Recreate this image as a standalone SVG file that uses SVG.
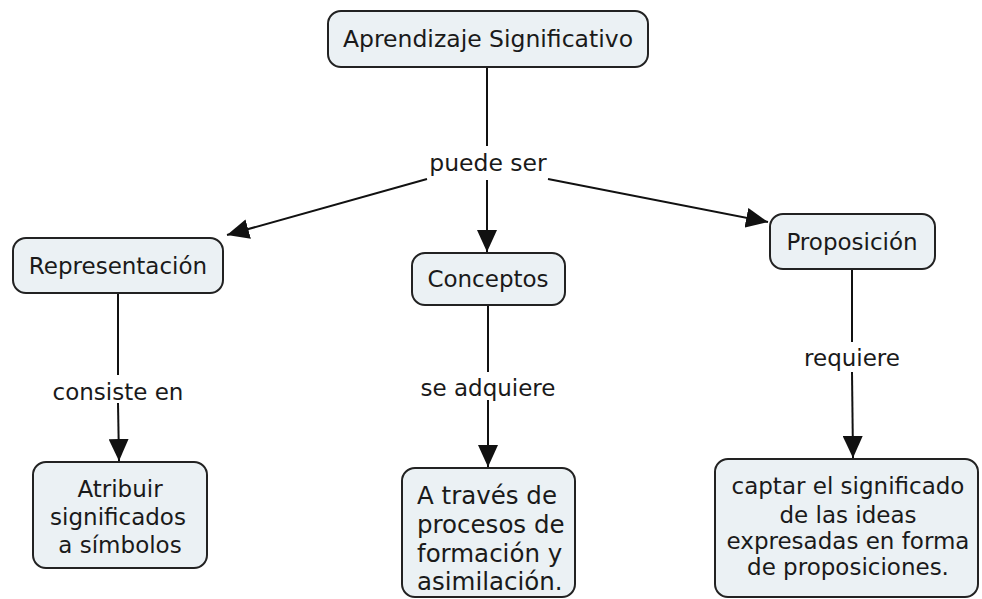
<svg xmlns="http://www.w3.org/2000/svg" width="982" height="599" viewBox="0 0 982 599">
<defs>
<marker id="ah" markerUnits="userSpaceOnUse" markerWidth="24" markerHeight="20" refX="22" refY="10" orient="auto">
<path d="M0,0 L22,10 L0,20 Z" fill="#111"/>
</marker>
<style>
.box{fill:#ebf1f4;stroke:#222;stroke-width:2}
.t{font-family:"DejaVu Sans",Verdana,sans-serif;font-size:23px;fill:#1a1a1a}
.c{text-anchor:middle}
.big{font-size:24.5px}
.ln{stroke:#111;stroke-width:2;fill:none}
</style>
</defs>
<rect width="982" height="599" fill="#fff"/>
<g id="connectors">
<line class="ln" x1="487" y1="67" x2="487" y2="146"/>
<line class="ln" x1="427" y1="179" x2="227" y2="235" marker-end="url(#ah)"/>
<line class="ln" x1="487" y1="180" x2="487" y2="252" marker-end="url(#ah)"/>
<line class="ln" x1="548" y1="179" x2="768" y2="222" marker-end="url(#ah)"/>
<line class="ln" x1="118" y1="293" x2="118" y2="375"/>
<line class="ln" x1="118" y1="403" x2="119" y2="461" marker-end="url(#ah)"/>
<line class="ln" x1="488" y1="305" x2="488" y2="372"/>
<line class="ln" x1="488" y1="400" x2="488" y2="467" marker-end="url(#ah)"/>
<line class="ln" x1="852" y1="269" x2="852" y2="342"/>
<line class="ln" x1="852" y1="372" x2="853" y2="458" marker-end="url(#ah)"/>
<text class="t c" x="488" y="171" style="font-size:23.5px">puede ser</text>
<text class="t c" x="118" y="400">consiste en</text>
<text class="t c" x="488" y="396">se adquiere</text>
<text class="t c" x="852" y="366">requiere</text>
</g>
<g id="n-aprendizaje">
<rect class="box" x="328" y="11" width="320" height="56" rx="13"/>
<text class="t c" x="488" y="47" style="font-size:23.5px">Aprendizaje Significativo</text>
</g>
<g id="n-representacion">
<rect class="box" x="13" y="238" width="210" height="55" rx="13"/>
<text class="t c" x="118" y="274">Representación</text>
</g>
<g id="n-conceptos">
<rect class="box" x="412" y="253" width="153" height="52" rx="13"/>
<text class="t c" x="488" y="287">Conceptos</text>
</g>
<g id="n-proposicion">
<rect class="box" x="770" y="214" width="165" height="55" rx="13"/>
<text class="t c" x="852" y="250">Proposición</text>
</g>
<g id="n-atribuir">
<rect class="box" x="33" y="462" width="174" height="106" rx="13"/>
<text class="t c" x="120" y="497">Atribuir</text>
<text class="t c" x="118" y="525">significados</text>
<text class="t c" x="120" y="553">a símbolos</text>
</g>
<g id="n-traves">
<rect class="box" x="402" y="468" width="173" height="129" rx="13"/>
<text class="t big" x="417" y="504">A través de</text>
<text class="t big" x="417" y="533">procesos de</text>
<text class="t big" x="417" y="562">formación y</text>
<text class="t big" x="417" y="590">asimilación.</text>
</g>
<g id="n-captar">
<rect class="box" x="715" y="459" width="263" height="138" rx="13"/>
<text class="t c" x="848" y="494">captar el significado</text>
<text class="t c" x="848" y="523">de las ideas</text>
<text class="t c" x="848" y="549">expresadas en forma</text>
<text class="t c" x="848" y="575">de proposiciones.</text>
</g>
</svg>
